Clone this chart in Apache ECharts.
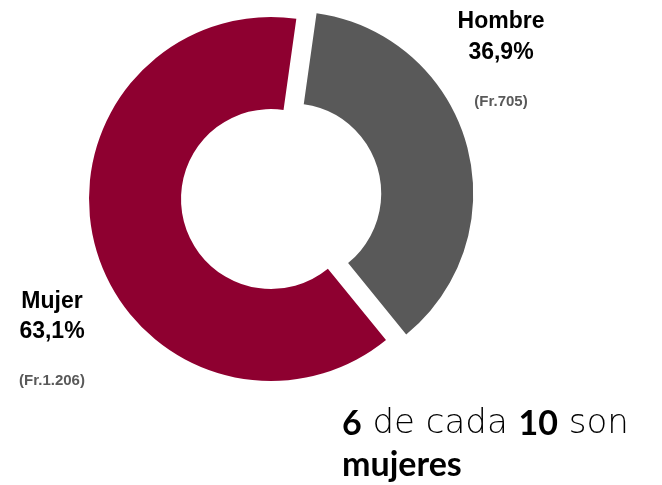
<!DOCTYPE html>
<html>
<head>
<meta charset="utf-8">
<script src="https://cdn.jsdelivr.net/npm/echarts@6/dist/echarts.min.js"></script>
<style>
	html, body { margin: 0; padding: 0; background: #fff; }
	#sexChart { width: 662px; height: 485px; }
</style>
</head>
<body>
<div id="sexChart"></div>
<script>
	// datos: frecuencia por sexo
	var categorias = ['Hombre', 'Mujer']
	var frecuencias = [705, 1206]
	var colores = ['#595959', '#8e0030']
	// donde va cada etiqueta (centro x, y de cada linea)
	var etiquetaPos = [
		{ x: 501, y: [22, 53, 102] },
		{ x: 52, y: [302, 332, 381] }
	]

	var total = frecuencias.reduce(function (a, b) { return a + b }, 0)

	function pct(v) {
		return (v / total * 100).toFixed(1).replace('.', ',') + '%'
	}
	function miles(v) {
		return String(v).replace(/\B(?=(\d{3})+(?!\d))/g, '.')
	}

	var datos = categorias.map(function (c, i) {
		return {
			name: c,
			value: frecuencias[i],
			selected: i === 0,
			itemStyle: { color: colores[i] },
			select: { itemStyle: { color: colores[i] } }
		}
	})

	var fuenteEtiqueta = 'bold 23px "Liberation Sans", Arial, sans-serif'
	var textos = []
	categorias.forEach(function (c, i) {
		var p = etiquetaPos[i]
		textos.push({ type: 'text', x: p.x, y: p.y[0], style: {
			text: c, fill: '#000', align: 'center', verticalAlign: 'middle', font: fuenteEtiqueta } })
		textos.push({ type: 'text', x: p.x, y: p.y[1], style: {
			text: pct(frecuencias[i]), fill: '#000', align: 'center', verticalAlign: 'middle', font: fuenteEtiqueta } })
		textos.push({ type: 'text', x: p.x, y: p.y[2], style: {
			text: '(Fr.' + miles(frecuencias[i]) + ')', fill: '#595959', align: 'center', verticalAlign: 'middle',
			font: 'bold 15px "Liberation Sans", Arial, sans-serif' } })
	})
	// frase de abajo
	textos.push({
		type: 'text', x: 342, y: 404,
		style: {
			text: '{b|6} de cada {b|10} son\n{b|mujeres}',
			fill: '#000', align: 'left', verticalAlign: 'top',
			fontFamily: '"DejaVu Sans", sans-serif', fontSize: 34, fontWeight: 300, lineHeight: 41,
			rich: {
				b: { fontFamily: 'Lato, "DejaVu Sans", sans-serif', fontSize: 34, fontWeight: 'bold', lineHeight: 41, fill: '#000' }
			}
		}
	})

	var chart = echarts.init(document.getElementById('sexChart'))
	chart.setOption({
		animation: false,
		series: [{
			type: 'pie',
			center: [271, 199],
			radius: [90, 182],
			startAngle: 82,
			clockwise: true,
			selectedMode: 'single',
			selectedOffset: 21,
			label: { show: false },
			labelLine: { show: false },
			emphasis: { disabled: true },
			itemStyle: { borderWidth: 0 },
			data: datos
		}],
		graphic: textos
	})
</script>
</body>
</html>
